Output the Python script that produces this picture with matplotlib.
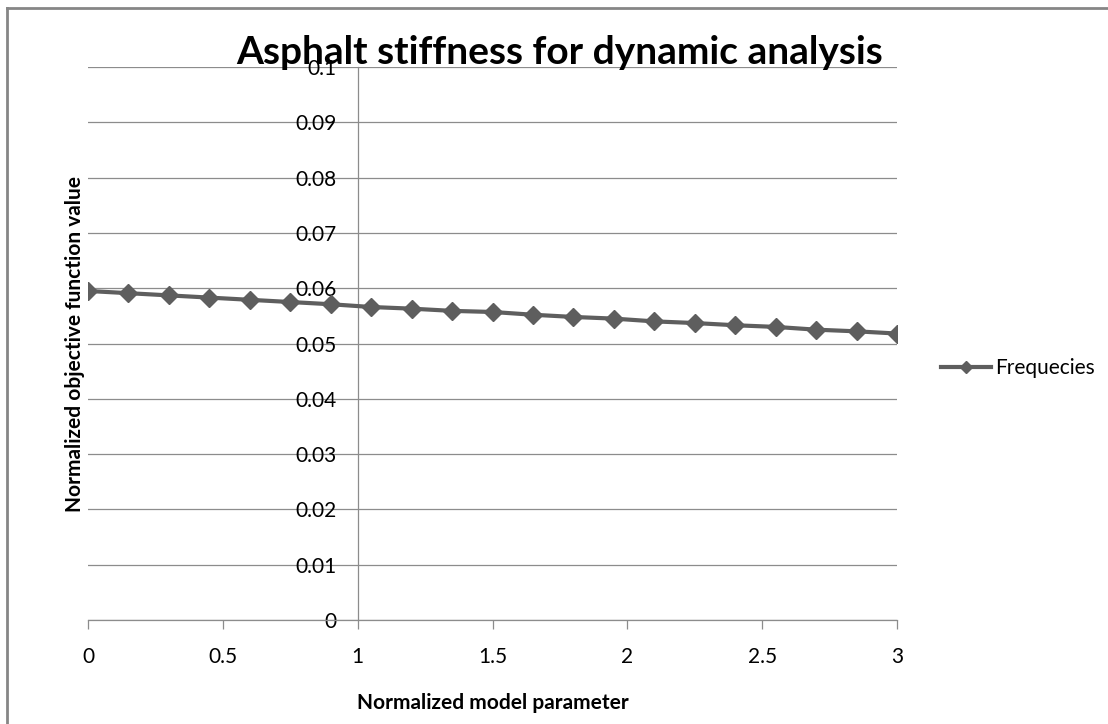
import matplotlib
matplotlib.use("Agg")
import matplotlib.pyplot as plt
from matplotlib.lines import Line2D
from matplotlib.ticker import FuncFormatter, MultipleLocator

plt.rcParams['font.family'] = ['Lato', 'DejaVu Sans']

# data
param = [0.0, 0.15, 0.3, 0.45, 0.6, 0.75, 0.9, 1.05, 1.2, 1.35, 1.5,
         1.65, 1.8, 1.95, 2.1, 2.25, 2.4, 2.55, 2.7, 2.85, 3.0]
objective = [0.0595, 0.0591, 0.0587, 0.0583, 0.0579, 0.0575, 0.0571,
             0.0566, 0.0563, 0.0559, 0.0557, 0.0552, 0.0548, 0.0545,
             0.0540, 0.0537, 0.0533, 0.0530, 0.0525, 0.0522, 0.0518]
series_name = "Frequecies"

W, H = 1108, 724
fig = plt.figure(figsize=(W / 100, H / 100), dpi=100)
ax = fig.add_axes([88 / W, 1 - 620 / H, (897 - 88) / W, (620 - 67) / H])

grid_col = "#8c8c8c"
line_col = "#5e5e5e"

ax.plot(param, objective, color=line_col, lw=3, marker="D", ms=9,
        label=series_name, zorder=3)

ax.set_xlim(0, 3)
ax.set_ylim(0, 0.1)
ax.xaxis.set_major_locator(MultipleLocator(0.5))
ax.yaxis.set_major_locator(MultipleLocator(0.01))
ax.xaxis.set_major_formatter(FuncFormatter(lambda v, p: "%g" % v))
ax.yaxis.set_major_formatter(FuncFormatter(lambda v, p: "%g" % round(v, 3)))

ax.grid(axis="y", color=grid_col, lw=0.9)
ax.set_axisbelow(True)

for s in ("top", "right"):
    ax.spines[s].set_visible(False)
ax.spines["left"].set_position(("data", 1))
ax.spines["left"].set_color(grid_col)
ax.spines["bottom"].set_color(grid_col)
ax.spines["left"].set_linewidth(0.9)
ax.spines["bottom"].set_linewidth(0.9)

ax.tick_params(axis="x", length=6.5, color=grid_col, width=0.9,
               labelsize=15, pad=13)
ax.tick_params(axis="y", length=0, labelsize=15, pad=15)

ax.set_xlabel("Normalized model parameter", fontsize=15, fontweight="bold")
ax.xaxis.set_label_coords(0.5, -0.132)
ax.set_ylabel("Normalized objective function value", fontsize=15,
              fontweight="bold")
ax.yaxis.set_label_coords(-0.004, 0.5)

fig.text(560 / W, 1 - 53 / H, "Asphalt stiffness for dynamic analysis",
         ha="center", va="center", fontsize=28, fontweight="bold")

ax.legend(loc="center left", bbox_to_anchor=(922 / W, 1 - 368 / H),
          bbox_transform=fig.transFigure, frameon=False, fontsize=15,
          handlelength=2.4, handletextpad=0.2, markerscale=0.65)

# chart area border (only left and top visible)
fig.add_artist(Line2D([7 / W, 7 / W], [0, 1 - 8 / H], color="#868686", lw=2))
fig.add_artist(Line2D([7 / W, 1], [1 - 8 / H, 1 - 8 / H], color="#868686", lw=2))

fig.savefig("out.png", dpi=100)
